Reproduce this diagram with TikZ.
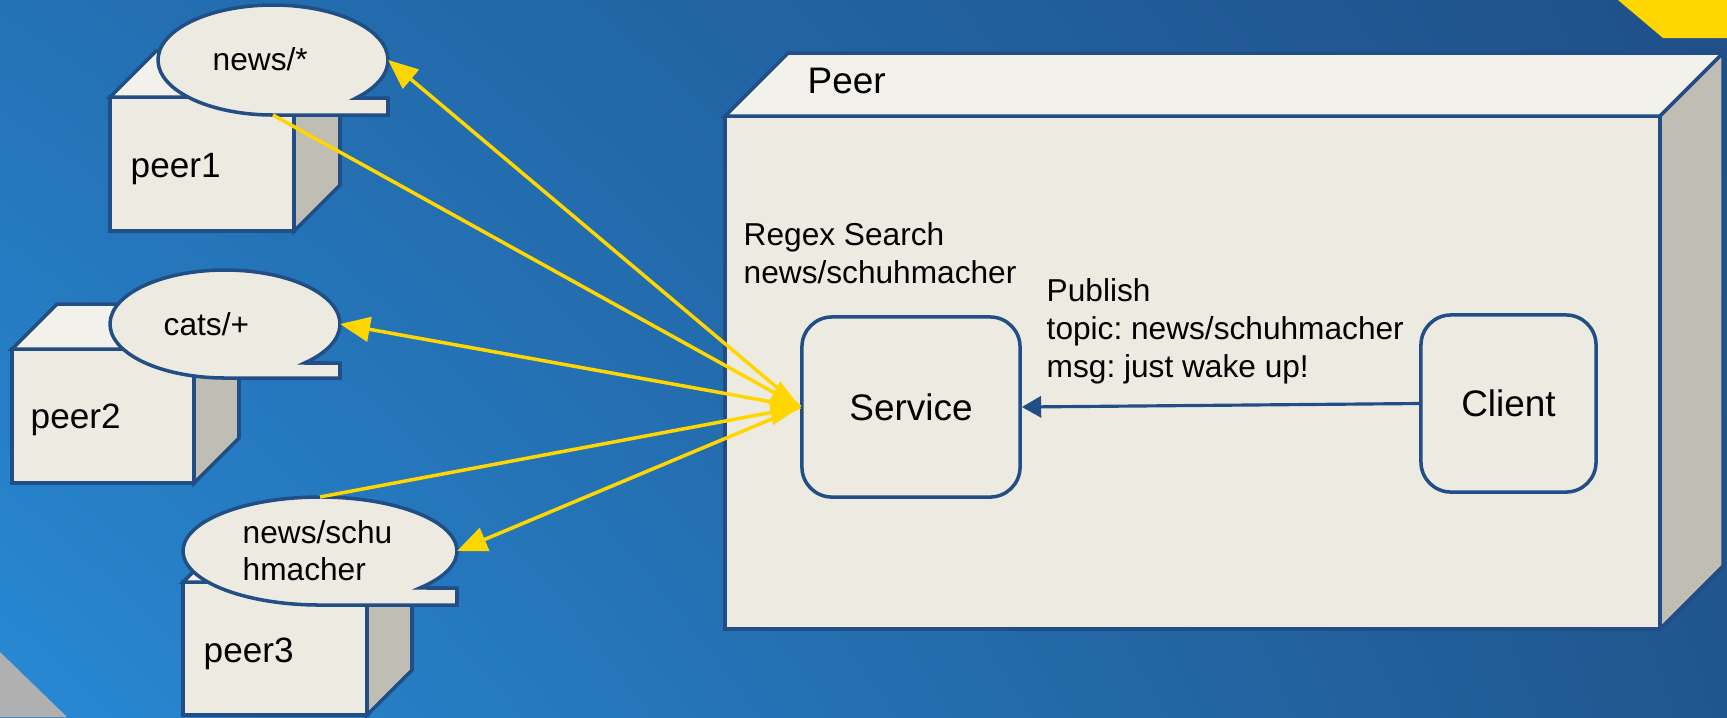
\documentclass[tikz,border=0pt]{standalone}
\usepackage{fontspec}
\setmainfont{Liberation Sans}
\usetikzlibrary{arrows.meta,shapes.geometric,shadings}
\frenchspacing

\definecolor{edgeblue}{RGB}{33,78,133}
\definecolor{frontface}{RGB}{237,235,225}
\definecolor{topface}{RGB}{243,241,235}
\definecolor{sideface}{RGB}{192,189,181}
\definecolor{linkyellow}{RGB}{255,214,0}
\definecolor{cornergrey}{RGB}{176,176,176}
\definecolor{bgul}{RGB}{36,114,182}
\definecolor{bgur}{RGB}{31,80,136}
\definecolor{bgll}{RGB}{40,137,212}
\definecolor{bglr}{RGB}{32,86,142}

\begin{document}
\begin{tikzpicture}[x=0.01cm, y=0.01cm]

        \tikzstyle{face}=[draw=edgeblue, line width=1pt, line join=miter]
        \tikzstyle{callout}=[draw=edgeblue, line width=1pt, fill=frontface]
        \tikzstyle{bubble}=[ellipse, inner sep=0pt, outer sep=0pt]
        \tikzstyle{roundbox}=[draw=edgeblue, line width=1pt, fill=frontface, rounded corners=0.3cm, inner sep=0pt]
        \tikzstyle{link}=[draw=linkyellow, line width=1pt, -{Triangle[length=8.5pt,width=7pt]}]
        \tikzstyle{publink}=[draw=edgeblue, line width=0.9pt, -{Triangle[length=5.5pt,width=6pt]}]
        \tikzstyle{note}=[font={\fontsize{9pt}{10.8pt}\selectfont}, align=left, inner sep=0pt, anchor=base west]
        \tikzset{fontscale/.style = {font={\fontsize{#1pt}{#1pt}\selectfont}, inner sep=0pt}}

        \useasboundingbox (0,0) rectangle (1727,-717);

        % Background
        \shade[upper left=bgul, upper right=bgur, lower left=bgll, lower right=bglr] (0,0) rectangle (1727,-717);
        \fill[linkyellow] (1618,0) -- (1727,0) -- (1727,-38) -- (1663,-38) -- cycle;
        \fill[cornergrey] (0,-652) -- (67,-717) -- (0,-717) -- cycle;

        % Draw the boxes (x / y / width / height / depth)
        \foreach \bx/\by/\bw/\bh/\bd in {725/116/935/513/63, 110/97/184/134/46, 12/349/182/134/45, 183/582/184/133/45}{
                \draw[face, fill=frontface] (\bx,-\by) rectangle ++(\bw,-\bh);
                \draw[face, fill=topface] (\bx,-\by) -- ++(\bd,\bd) -- ++(\bw,0) -- ++(-\bd,-\bd) -- cycle;
                \draw[face, fill=sideface] (\bx+\bw,-\by) -- ++(\bd,\bd) -- ++(0,-\bh) -- ++(-\bd,-\bd) -- cycle;
        }

        % Draw the subscription bubbles
        \node[bubble, minimum width=2.30cm, minimum height=1.10cm] (bubble1) at (273,-60) {};
        \node[bubble, minimum width=2.30cm, minimum height=1.08cm] (bubble2) at (225,-324) {};
        \node[bubble, minimum width=2.74cm, minimum height=1.08cm] (bubble3) at (320,-551) {};
        \draw[callout] (bubble1.center) ++(-43.7:115 and 55) arc[start angle=-43.7, end angle=270, x radius=115, y radius=55]
                -- ++(115,0) -- ++(0,17) -- cycle;
        \draw[callout] (bubble2.center) ++(-46.2:115 and 54) arc[start angle=-46.2, end angle=270, x radius=115, y radius=54]
                -- ++(115,0) -- ++(0,15) -- cycle;
        \draw[callout] (bubble3.center) ++(-43.2:137 and 54) arc[start angle=-43.2, end angle=270, x radius=137, y radius=54]
                -- ++(137,0) -- ++(0,17) -- cycle;

        % Draw the service and client
        \node[roundbox, minimum width=2.18cm, minimum height=1.80cm, fontscale=10.5] (service) at (911,-407) {Service};
        \node[roundbox, minimum width=1.75cm, minimum height=1.77cm, fontscale=10.5] (client) at (1508.5,-403.5) {Client};

        % Labels
        \node[fontscale=10.5, anchor=base west] (peer) at (807,-93) {Peer};
        \node[fontscale=10, anchor=base west] (peer1) at (130,-177) {peer1};
        \node[fontscale=10, anchor=base west] (peer2) at (30,-428) {peer2};
        \node[fontscale=10, anchor=base west] (peer3) at (203,-662) {peer3};
        \node[note] (topic1) at (212,-70) {news/*};
        \node[note] (topic2) at (163,-335) {cats/+};
        \node[note, font={\fontsize{9pt}{10.5pt}\selectfont}] (topic3) at (242,-580) {news/schu\\hmacher};
        \node[note] (regex) at (743,-283) {Regex Search\\news/schuhmacher};
        \node[note] (publish) at (1046,-377) {Publish\\topic: news/schuhmacher\\msg: just wake up!};

        % Connect the nodes
        \draw[publink] (client.west) -- (service.east);
        \foreach \target in {bubble1.east, bubble2.east, bubble3.east}
                \draw[link] (service.west) -- (\target);
        \foreach \source in {bubble1.south, bubble3.north}
                \draw[link] (\source) -- (service.west);

\end{tikzpicture}
\end{document}
